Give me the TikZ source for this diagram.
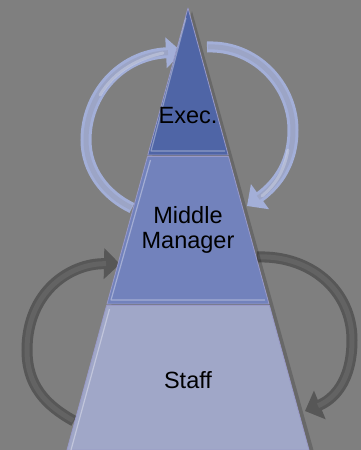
\documentclass[tikz,border=0pt]{standalone}
\usepackage{fontspec}
\setmainfont{Liberation Sans}
\usetikzlibrary{arrows.meta}

\definecolor{bggray}{HTML}{7F7F7F}
\definecolor{execblue}{HTML}{4F65A6}
\definecolor{midblue}{HTML}{7282BC}
\definecolor{staffblue}{HTML}{A0A7C8}
\definecolor{loopblue}{HTML}{A3AFD8}
\definecolor{loopgray}{HTML}{575757}

\tikzset{
	layer/.style={draw=black!55!blue!40,line width=0.8pt,line join=round},
	bevel/.style={draw=white,opacity=0.35,line width=1.2pt,line join=round},
	label/.style={font=\fontsize{23.5}{25}\selectfont,align=center,text=black,inner sep=0pt},
	upperloop/.style={draw=loopblue,line width=11pt,-{Triangle[width=30pt,length=16pt]}},
	lowerloop/.style={draw=loopgray,line width=11pt,-{Triangle[width=30pt,length=16pt]}},
	innerband/.style={line width=5pt,shorten >=14pt,shorten <=1pt},
	streak/.style={draw=white,line width=3pt,opacity=0.25,line cap=round}
}

\begin{document}
\begin{tikzpicture}[x=1pt,y=-1pt]
	\fill[bggray] (0,0) rectangle (361,450);
	\useasboundingbox (0,0) rectangle (361,450);

	% ends of the loops
	\coordinate (ul-tail) at (132,208);
	\coordinate (ul-tip) at (182,52);
	\coordinate (ur-tail) at (207,47);
	\coordinate (ur-tip) at (247,206);
	\coordinate (ll-tail) at (74,421);
	\coordinate (ll-tip) at (120,264);
	\coordinate (lr-tail) at (257,257);
	\coordinate (lr-tip) at (305,411);

	% upper loops
	\draw[upperloop] (ul-tail) .. controls (105,195) and (86,170) .. (86,140) .. controls (86,95) and (120,55) .. (ul-tip);
	\draw[upperloop] (ur-tail) .. controls (255,45) and (293,85) .. (293,130) .. controls (293,168) and (272,188) .. (ur-tip);
	\draw[innerband,draw=loopblue!80!bggray] (ul-tail) .. controls (105,195) and (86,170) .. (86,140) .. controls (86,95) and (120,55) .. (ul-tip);
	\draw[innerband,draw=loopblue!80!bggray] (ur-tail) .. controls (255,45) and (293,85) .. (293,130) .. controls (293,168) and (272,188) .. (ur-tip);
	\draw[streak] (100,95) .. controls (115,70) and (140,58) .. (163,53);
	\draw[streak] (288,150) .. controls (284,172) and (275,185) .. (262,196);

	% lower loops
	\draw[lowerloop] (ll-tail) .. controls (45,405) and (27,385) .. (27,350) .. controls (27,292) and (70,263) .. (ll-tip);
	\draw[lowerloop] (lr-tail) .. controls (310,255) and (352,290) .. (352,340) .. controls (352,383) and (332,400) .. (lr-tip);
	\draw[innerband,draw=loopgray!70!bggray] (ll-tail) .. controls (45,405) and (27,385) .. (27,350) .. controls (27,292) and (70,263) .. (ll-tip);
	\draw[innerband,draw=loopgray!70!bggray] (lr-tail) .. controls (310,255) and (352,290) .. (352,340) .. controls (352,383) and (332,400) .. (lr-tip);

	% shadow
	\fill[black,opacity=0.18] (192,11) -- (314,452) -- (71,452) -- cycle;

	% layers
	\filldraw[layer,fill=execblue] (188,8) -- (228.2,155) -- (147.8,155) -- cycle;
	\filldraw[layer,fill=midblue] (147.5,156.5) -- (228.5,156.5) -- (269,304) -- (107,304) -- cycle;
	\filldraw[layer,fill=staffblue] (106.6,305.5) -- (269.4,305.5) -- (309,450) -- (67,450) -- cycle;
	\draw[bevel] (186,18) -- (151,151) -- (225,151);
	\draw[bevel] (150.5,160) -- (111,300) -- (265,300);
	\draw[bevel] (109.5,309) -- (71,450);

	% texts
	\node[label] (exec) at (188,116) {Exec.};
	\node[label] (middle) at (188,230) {Middle\\Manager};
	\node[label] (staff) at (188,380) {Staff};
\end{tikzpicture}
\end{document}
